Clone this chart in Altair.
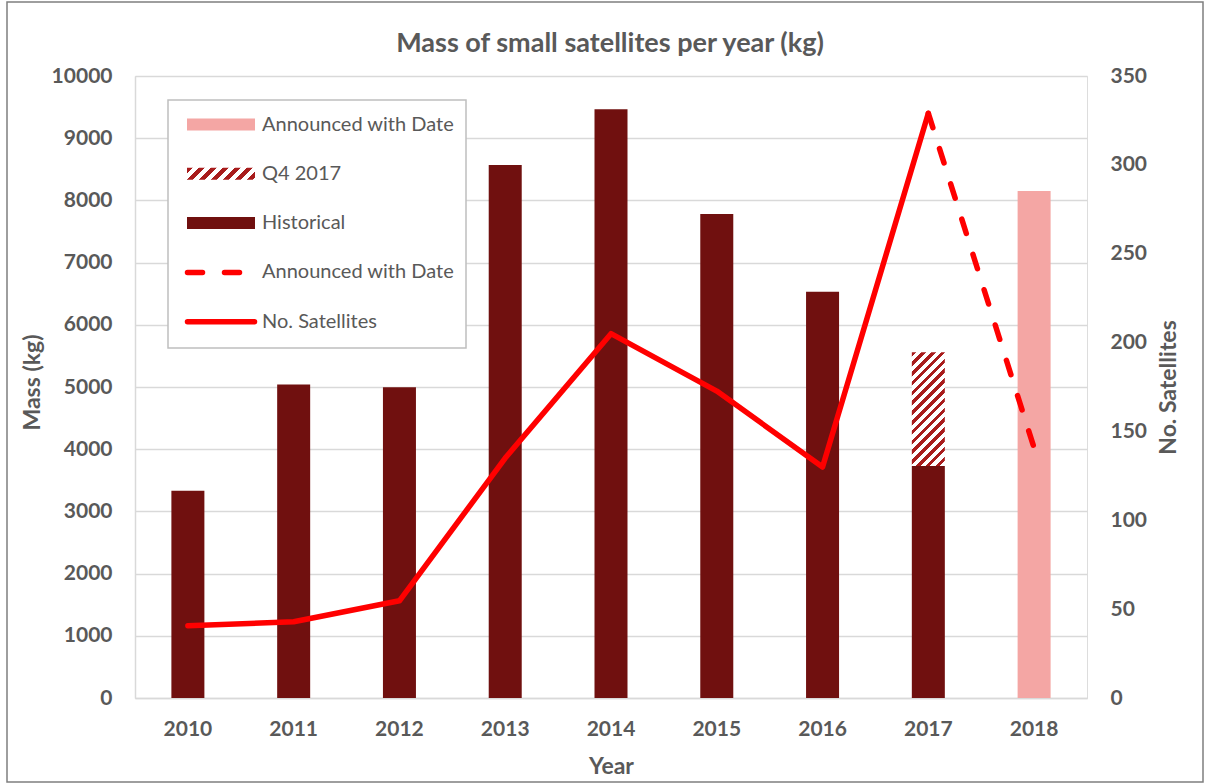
import altair as alt
import pandas as pd

# ---------------- data ----------------
years = ["2010", "2011", "2012", "2013", "2014", "2015", "2016", "2017", "2018"]
hist_years = ["2010", "2011", "2012", "2013", "2014", "2015", "2016", "2017"]
hist_mass = [3330, 5040, 4995, 8570, 9465, 7780, 6530, 3730]
q4_years = ["2017"]
q4_base = [3730]
q4_top = [5560]
ann_years = ["2018"]
ann_mass = [8150]
sat_years = ["2010", "2011", "2012", "2013", "2014", "2015", "2016", "2017"]
sat_count = [40.7, 42.9, 54.7, 135, 205, 172.7, 130, 329]
ann_sat_years = ["2017", "2018"]
ann_sat_count = [329, 140.7]
mass_ticks = [0, 1000, 2000, 3000, 4000, 5000, 6000, 7000, 8000, 9000, 10000]
sat_ticks = [0, 50, 100, 150, 200, 250, 300, 350]
legend_labels = ["Announced with Date", "Q4 2017", "Historical",
                 "Announced with Date", "No. Satellites"]
title_text = ["Mass of small satellites per year (kg)"]

# ---------------- style ----------------
W, H = 952, 622
MASS_MAX, SAT_MAX = 10000, 350
FONT = "Lato"
GREY = "#595959"
DARK = "#70100f"
PINK = "#f4a6a4"
STRIPE = "#a81c1c"
RED = "#ff0000"
TICK_FS = 21
TITLE_FS = 23


def hatch(w, h, period):
    """Diagonal '/' stripes as a hard-stop linear gradient for a w x h box."""
    n = (w + h) / period
    k = (w + h) / (w * w + h * h)
    stops = []
    i = 0
    while i / n < 1:
        s = i / n
        m = min((i + 0.45) / n, 1)
        e = min((i + 1) / n, 1)
        stops += [alt.GradientStop(offset=s, color=STRIPE),
                  alt.GradientStop(offset=m, color=STRIPE),
                  alt.GradientStop(offset=m, color="#ffffff"),
                  alt.GradientStop(offset=e, color="#ffffff")]
        i += 1
    return alt.LinearGradient(gradient="linear", stops=stops,
                              x1=0, y1=0, x2=w * k, y2=h * k)


band_w = W / len(years) * 0.312
q4_h = (q4_top[0] - q4_base[0]) / MASS_MAX * H

xscale = alt.Scale(domain=years, paddingInner=0.688, paddingOuter=0.344)
ymass = alt.Scale(domain=[0, MASS_MAX], nice=False)
ysat = alt.Scale(domain=[0, SAT_MAX], nice=False)

x_axis = alt.Axis(title="Year", labelAngle=0, labelFont=FONT, labelFontSize=TICK_FS,
                  labelFontWeight="bold", labelColor=GREY, labelPadding=20,
                  ticks=False, domainColor="#d9d9d9", domainWidth=1.5, grid=False,
                  titleFont=FONT, titleFontSize=TITLE_FS, titleFontWeight="bold",
                  titleColor=GREY, titleY=68, titleBaseline="middle")
left_axis = alt.Axis(title="Mass (kg)", values=mass_ticks, format="d", grid=True,
                     gridColor="#d9d9d9", gridWidth=1.5, ticks=False,
                     domainColor="#d9d9d9", domainWidth=1.5,
                     labelFont=FONT, labelFontSize=TICK_FS, labelFontWeight="bold",
                     labelColor=GREY, labelPadding=23,
                     titleFont=FONT, titleFontSize=TITLE_FS, titleFontWeight="bold",
                     titleColor=GREY, titleX=-103, titleY=306, titleAngle=270,
                     titleBaseline="middle")
right_axis = alt.Axis(title="No. Satellites", orient="right", values=sat_ticks,
                      format="d", grid=False, ticks=False, domain=False,
                      labelFont=FONT, labelFontSize=TICK_FS, labelFontWeight="bold",
                      labelColor=GREY, labelPadding=23,
                      titleFont=FONT, titleFontSize=TITLE_FS, titleFontWeight="bold",
                      titleColor=GREY, titleX=81, titleAngle=270,
                      titleBaseline="middle")

hist_df = pd.DataFrame({"year": hist_years, "mass": hist_mass})
q4_df = pd.DataFrame({"year": q4_years, "base": q4_base, "top": q4_top})
ann_df = pd.DataFrame({"year": ann_years, "mass": ann_mass})
sat_df = pd.DataFrame({"year": sat_years, "count": sat_count})
ann_sat_df = pd.DataFrame({"year": ann_sat_years, "count": ann_sat_count})

hist = alt.Chart(hist_df).mark_bar(color=DARK).encode(
    x=alt.X("year:N", scale=xscale, axis=x_axis),
    y=alt.Y("mass:Q", scale=ymass, axis=left_axis))
q4 = alt.Chart(q4_df).mark_bar(fill=hatch(band_w, q4_h, 9.8), strokeWidth=0).encode(
    x=alt.X("year:N", scale=xscale, axis=x_axis),
    y=alt.Y("base:Q", scale=ymass, axis=left_axis), y2="top:Q")
ann = alt.Chart(ann_df).mark_bar(color=PINK).encode(
    x=alt.X("year:N", scale=xscale, axis=x_axis),
    y=alt.Y("mass:Q", scale=ymass, axis=left_axis))
bars = alt.layer(hist, q4, ann)

line = alt.Chart(sat_df).mark_line(color=RED, strokeWidth=5.5, strokeJoin="round",
                                   strokeCap="round").encode(
    x=alt.X("year:N", scale=xscale, axis=x_axis),
    y=alt.Y("count:Q", scale=ysat, axis=right_axis))
dline = alt.Chart(ann_sat_df).mark_line(color=RED, strokeWidth=5.5, strokeCap="round",
                                        strokeDash=[15, 22]).encode(
    x=alt.X("year:N", scale=xscale, axis=x_axis),
    y=alt.Y("count:Q", scale=ysat, axis=right_axis))
lines = alt.layer(dline, line)

# ---------------- legend (drawn in pixel space of the plot) ----------------
one = pd.DataFrame({"k": [0]})
LY0, LSTEP = 48.5, 49.3
ys = [LY0 + i * LSTEP for i in range(5)]
leg = [alt.Chart(one).mark_rect(fill="white", stroke="#bfbfbf", strokeWidth=1.5).encode(
    x=alt.value(33), x2=alt.value(331), y=alt.value(24), y2=alt.value(272))]
leg.append(alt.Chart(one).mark_rect(fill=PINK).encode(
    x=alt.value(52), x2=alt.value(120), y=alt.value(ys[0] - 6), y2=alt.value(ys[0] + 6)))
leg.append(alt.Chart(one).mark_rect(fill=hatch(68, 12, 12)).encode(
    x=alt.value(52), x2=alt.value(120), y=alt.value(ys[1] - 6), y2=alt.value(ys[1] + 6)))
leg.append(alt.Chart(one).mark_rect(fill=DARK).encode(
    x=alt.value(52), x2=alt.value(120), y=alt.value(ys[2] - 6), y2=alt.value(ys[2] + 6)))
leg.append(alt.Chart(one).mark_rule(color=RED, strokeWidth=5.5, strokeCap="round",
                                    strokeDash=[15, 22]).encode(
    x=alt.value(52.5), x2=alt.value(107), y=alt.value(ys[3])))
leg.append(alt.Chart(one).mark_rule(color=RED, strokeWidth=5.5, strokeCap="round").encode(
    x=alt.value(52.5), x2=alt.value(119.5), y=alt.value(ys[4])))
for i, lab in enumerate(legend_labels):
    leg.append(alt.Chart(pd.DataFrame({"label": [lab]})).mark_text(
        align="left", baseline="middle", font=FONT, fontSize=20, color=GREY).encode(
        x=alt.value(127), y=alt.value(ys[i]), text="label:N"))

title = alt.Chart(pd.DataFrame({"t": title_text})).mark_text(
    align="center", baseline="middle", font=FONT, fontSize=27, fontWeight="bold",
    color=GREY).encode(x=alt.value(W / 2 - 1), y=alt.value(-32), text="t:N")

border = alt.Chart(one).mark_rect(filled=False, stroke="#7f7f7f", strokeWidth=1.5).encode(
    x=alt.value(-128), x2=alt.value(1068), y=alt.value(-74), y2=alt.value(706))

chart = alt.layer(bars, lines, *leg, title, border).resolve_scale(y="independent").properties(
    width=W, height=H,
    autosize="none",
    padding={"left": 135, "top": 76, "right": 118, "bottom": 86},
).configure_view(stroke=None).configure(background="white")

chart.save("out.html", embed_options={"renderer": "svg", "actions": False})
